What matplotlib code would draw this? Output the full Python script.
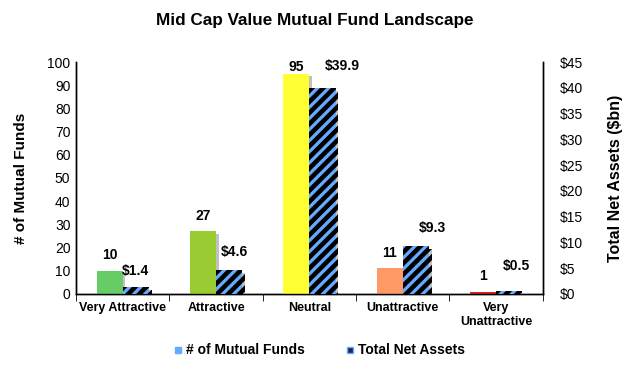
import numpy as np
import matplotlib.pyplot as plt
import matplotlib.patheffects as pe
from matplotlib.lines import Line2D

plt.rcParams['font.family'] = ['Liberation Sans', 'DejaVu Sans']
plt.rcParams['hatch.linewidth'] = 3.3

categories = ["Very Attractive", "Attractive", "Neutral", "Unattractive", "Very\nUnattractive"]
n_funds = [10, 27, 95, 11, 1]
net_assets = [1.4, 4.6, 39.9, 9.3, 0.5]
fund_colors = ["#66CC66", "#99CC33", "#FFFF33", "#FF9966", "#DD2222"]
asset_labels = ["$1.4", "$4.6", "$39.9", "$9.3", "$0.5"]

# label nudges (points), as placed in the original chart
fund_dy = [11, 11, 5, 11, 11]
asset_dx = [0, 4, 14, 12, 5]
asset_dy = [11, 13, 16, 13, 18]

fig = plt.figure(figsize=(6.3, 3.67), dpi=100)
ax = fig.add_axes([0.1206, 0.199, 0.741, 0.632])
ax2 = ax.twinx()

x = np.arange(len(categories))
w = 0.28
shadow = [pe.SimplePatchShadow(offset=(2, -2), shadow_rgbFace='#999999', alpha=0.6), pe.Normal()]

b1 = ax.bar(x - w / 2, n_funds, w, color=fund_colors, edgecolor='none', zorder=3)
for b in b1:
    b.set_path_effects(shadow)
b2 = ax2.bar(x + w / 2, net_assets, w, color='#66AAFF', edgecolor='black', linewidth=0,
             hatch='///', zorder=3)
for b in b2:
    b.set_path_effects(shadow)

for xi, v, dy in zip(x, n_funds, fund_dy):
    ax.annotate(str(v), (xi - w / 2, v), xytext=(0, dy), textcoords='offset points',
                ha='center', va='center', fontsize=10, fontweight='bold',
                annotation_clip=False)
for xi, v, s, dx, dy in zip(x, net_assets, asset_labels, asset_dx, asset_dy):
    ax2.annotate(s, (xi + w / 2, v), xytext=(dx, dy), textcoords='offset points',
                 ha='center', va='center', fontsize=10, fontweight='bold',
                 annotation_clip=False)

ax.set_xlim(-0.5, len(categories) - 0.5)
ax.set_ylim(0, 100)
ax.set_yticks(np.arange(0, 101, 10))
ax2.set_ylim(0, 45)
ax2.set_yticks(np.arange(0, 46, 5))
ax2.set_yticklabels(["$%d" % v for v in np.arange(0, 46, 5)])

ax.set_xticks(x)
ax.set_xticklabels(categories, fontsize=9, fontweight='bold')
ax.set_xticks(np.arange(-0.5, len(categories), 1), minor=True)
ax.tick_params(axis='x', which='major', length=0, pad=6)
ax.tick_params(axis='x', which='minor', length=5, direction='out')
ax.tick_params(axis='y', length=0, labelsize=10, pad=4)
ax2.tick_params(axis='y', length=0, labelsize=10, pad=12)

for a in (ax, ax2):
    a.spines['top'].set_visible(False)
    for s in ('left', 'right', 'bottom'):
        a.spines[s].set_color('black')
        a.spines[s].set_linewidth(1)

ax.set_ylabel("# of Mutual Funds", fontsize=11, fontweight='bold', labelpad=14)
ax2.set_ylabel("Total Net Assets ($bn)", fontsize=11.5, fontweight='bold', labelpad=18)
fig.suptitle("Mid Cap Value Mutual Fund Landscape", x=0.50, y=0.965,
             fontsize=12.3, fontweight='bold')

handles = [
    Line2D([], [], marker='s', linestyle='none', markersize=5, markerfacecolor='#66AAFF',
           markeredgecolor='#66AAFF'),
    Line2D([], [], marker='s', linestyle='none', markersize=5, markerfacecolor='#1a2a50',
           markeredgecolor='#66AAFF'),
]
fig.legend(handles, ["# of Mutual Funds", "Total Net Assets"], loc='center',
           bbox_to_anchor=(0.505, 0.045), ncol=2, frameon=False, handletextpad=0.05,
           handlelength=1.0, columnspacing=2.8, prop={'weight': 'bold', 'size': 10})

fig.savefig("out.png", dpi=100)
